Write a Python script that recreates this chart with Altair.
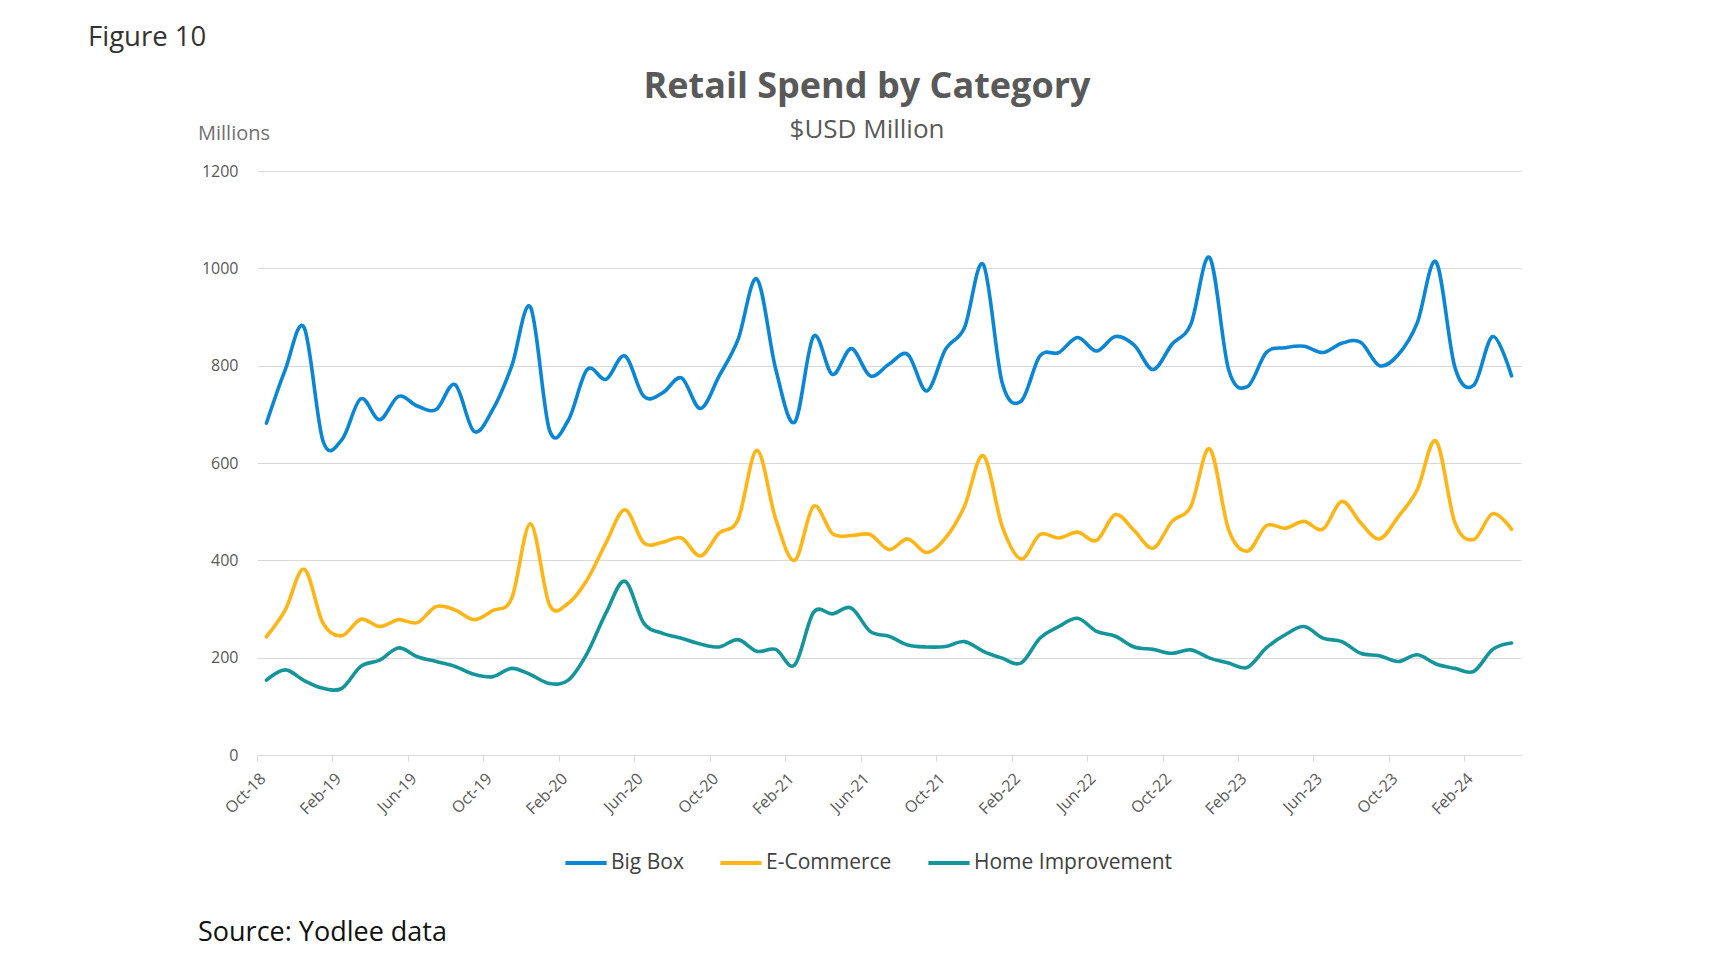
import altair as alt
import pandas as pd

FONT = "Open Sans"

months = [d.strftime("%b-%y") for d in pd.date_range("2018-10-01", periods=67, freq="MS")]
tick_labels = ["Oct-18", "Feb-19", "Jun-19", "Oct-19", "Feb-20", "Jun-20", "Oct-20", "Feb-21",
               "Jun-21", "Oct-21", "Feb-22", "Jun-22", "Oct-22", "Feb-23", "Jun-23", "Oct-23", "Feb-24"]

big_box = [682, 792, 878, 645, 648, 732, 689, 737, 717, 710, 761, 665,
           710, 799, 920, 668, 688, 792, 772, 820, 737, 744, 775, 712,
           779, 854, 978, 792, 684, 860, 782, 835, 779, 803, 823, 748,
           834, 878, 1008, 765, 727, 820, 827, 858, 830, 860, 842, 792,
           844, 885, 1022, 792, 757, 827, 837, 840, 827, 846, 848, 800,
           823, 888, 1013, 796, 760, 860, 779]
e_commerce = [243, 298, 382, 271, 245, 279, 264, 278, 272, 305, 298, 278,
              297, 322, 475, 309, 312, 360, 436, 504, 436, 437, 446, 409,
              456, 484, 626, 484, 400, 511, 455, 451, 453, 422, 444, 416,
              446, 511, 615, 470, 403, 453, 446, 458, 441, 494, 461, 425,
              480, 511, 629, 463, 419, 471, 466, 480, 464, 521, 477, 444,
              490, 545, 645, 477, 443, 496, 464]
home_improvement = [154, 175, 153, 137, 137, 182, 195, 220, 202, 192, 182, 166,
                    161, 178, 165, 147, 154, 209, 292, 357, 271, 250, 240, 228,
                    222, 237, 213, 217, 185, 293, 290, 302, 254, 244, 226, 222,
                    223, 233, 213, 199, 189, 240, 264, 281, 254, 244, 222, 217,
                    209, 216, 199, 189, 180, 220, 247, 264, 240, 233, 209, 204,
                    192, 206, 187, 178, 172, 217, 230]

series_names = ["Big Box", "E-Commerce", "Home Improvement"]
series_colors = ["#0a86d6", "#ffb515", "#13959b"]

rows = []
for name, vals in zip(series_names, [big_box, e_commerce, home_improvement]):
    for i, (m, v) in enumerate(zip(months, vals)):
        rows.append({"series": name, "month": m, "pos": i + 0.5, "value": v})
df = pd.DataFrame(rows)

label_expr = "[" + ",".join(f"'{t}'" for t in tick_labels) + "][round(datum.value / 4)]"

lines = alt.Chart(df).mark_line(
    interpolate="cardinal", strokeWidth=3.6, strokeCap="round", strokeJoin="round"
).encode(
    x=alt.X("pos:Q",
            scale=alt.Scale(domain=[0, len(months)], nice=False, zero=False),
            axis=alt.Axis(values=list(range(0, 65, 4)), labelExpr=label_expr,
                          labelAngle=-45, labelAlign="right", labelBaseline="top",
                          labelPadding=9, labelFontSize=16, labelColor="#595959",
                          labelFont=FONT, tickColor="#d9d9d9", tickSize=6,
                          domainColor="#d9d9d9", grid=False, title=None,
                          labelOverlap=False)),
    y=alt.Y("value:Q",
            scale=alt.Scale(domain=[0, 1200], nice=False),
            axis=alt.Axis(values=[0, 200, 400, 600, 800, 1000, 1200], format="d",
                          labelFontSize=16, labelColor="#595959", labelFont=FONT,
                          labelPadding=19, ticks=False, domain=False,
                          gridColor="#d9d9d9", gridWidth=1, title=None)),
    color=alt.Color("series:N",
                    scale=alt.Scale(domain=series_names, range=series_colors),
                    legend=alt.Legend(orient="none", legendX=306, legendY=669,
                                      direction="horizontal", title=None,
                                      symbolType="stroke", symbolStrokeWidth=4,
                                      symbolSize=1700, labelFontSize=21,
                                      labelFont=FONT, labelColor="#404040",
                                      labelLimit=0, columnPadding=28,
                                      labelOffset=2)),
)


def text_layer(txt, x, y, size, color, weight="normal", align="left"):
    return alt.Chart(pd.DataFrame({"t": [txt]})).mark_text(
        fontSize=size, font=FONT, color=color, fontWeight=weight,
        align=align, baseline="alphabetic"
    ).encode(text="t:N", x=alt.value(x), y=alt.value(y))


texts = [
    text_layer("Figure 10", -169, -125, 27.5, "#333333"),
    text_layer("Retail Spend by Category", 610, -73, 36, "#595959", "bold", "center"),
    text_layer("$USD Million", 610, -33, 26, "#595959", "normal", "center"),
    text_layer("Millions", -59, -31, 20, "#707070"),
    text_layer("Source: Yodlee data", -59, 770, 27, "#111111"),
]

chart = alt.layer(lines, *texts).properties(
    width=1264, height=584,
    autosize=alt.AutoSizeParams(type="none"),
    padding={"left": 249, "top": 163, "right": 189, "bottom": 201},
).configure_view(stroke=None)

chart.save("out.html", embed_options={"renderer": "svg", "actions": False})
